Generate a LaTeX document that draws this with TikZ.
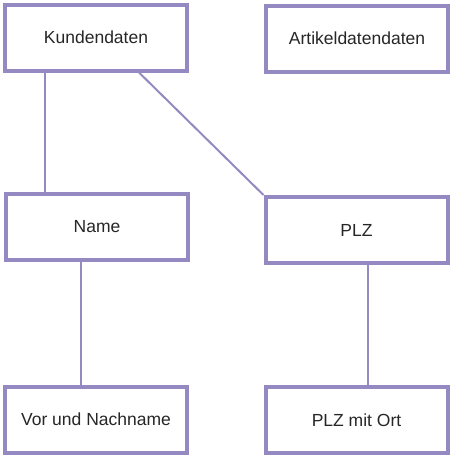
\documentclass[tikz,border=0pt]{standalone}
\usepackage{xcolor}
\usepackage{fontspec}
\setmainfont{Liberation Sans}
\usepackage{tikz}
\usetikzlibrary{shapes, arrows}
\definecolor{boxline}{HTML}{9489C0}
\definecolor{boxtext}{HTML}{262626}

\begin{document}
\begin{tikzpicture}[-,x=1pt,y=1pt,
      main node/.style={rectangle,draw=boxline,line width=4pt,minimum width=182pt,
        minimum height=66pt,font=\fontsize{17.5}{21}\selectfont,text=boxtext},
      link/.style={draw=boxline,line width=2pt}]
    \useasboundingbox (0,0) rectangle (453,-459);

        \node[main node] (kunden) at (96,-37.5) {Kundendaten};
        \node[main node] (artikel) at (357,-38.5) {Artikeldatendaten};
        \node[main node] (name) at (97,-227) {Name};
        \node[main node] (plz) at (356.5,-230) {PLZ};
        \node[main node] (vorname) at (96,-419.5) {Vor und Nachname};
        \node[main node] (plzort) at (356.5,-420) {PLZ mit Ort};

        \path[link]
            ([xshift=42pt]kunden.south west) edge ([xshift=42pt]kunden.south west |- name.north)
            ([xshift=136pt]kunden.south west) edge (plz.north west)
            ([xshift=77pt]name.south west) edge ([xshift=77pt]name.south west |- vorname.north)
            ([xshift=104.5pt]plz.south west) edge ([xshift=104.5pt]plz.south west |- plzort.north)
        ;
    \end{tikzpicture}
\end{document}
